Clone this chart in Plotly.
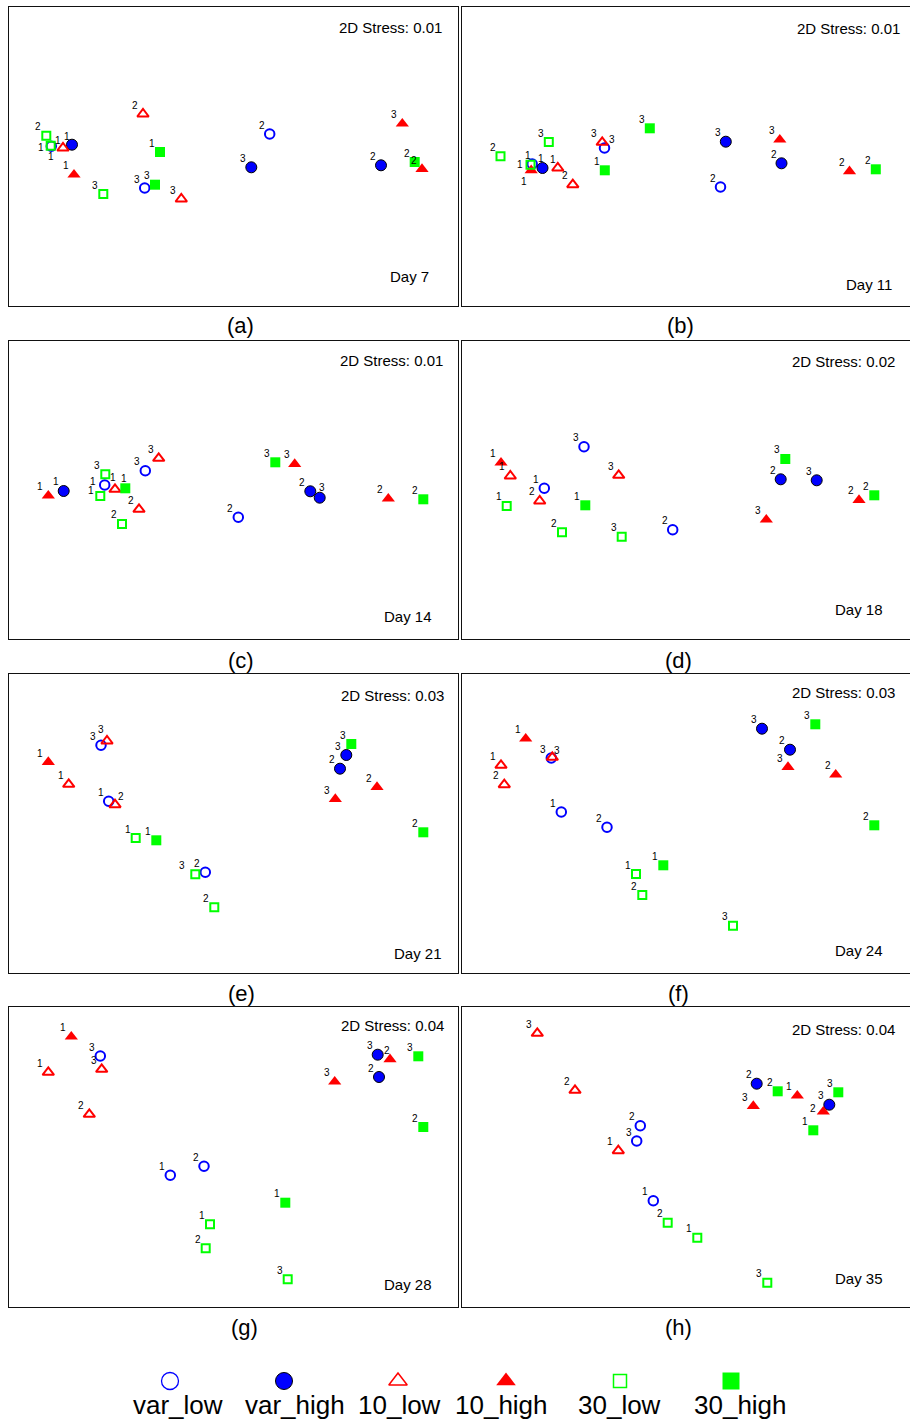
import plotly.graph_objects as go

# ---------------- data ----------------
groups = ["var_low", "var_high", "10_low", "10_high", "30_low", "30_high"]
reps = ["1", "2", "3"]
days = ["Day 7", "Day 11", "Day 14", "Day 18", "Day 21", "Day 24", "Day 28", "Day 35"]
letters = ["(a)", "(b)", "(c)", "(d)", "(e)", "(f)", "(g)", "(h)"]
stress = ["0.01", "0.01", "0.01", "0.02", "0.03", "0.03", "0.04", "0.04"]

# NMDS ordination coordinates (plot units) per day, replicate 1..3 (None = missing)
day7_x = {"var_low": [42.3, 260.7, 135.7], "var_high": [63.0, 372.0, 242.3],
          "10_low": [54.0, 134.0, 172.3], "10_high": [65.0, 413.0, 393.3],
          "30_low": [41.7, 37.3, 94.3], "30_high": [151.0, 405.7, 146.0]}
day7_y = {"var_low": [139.3, 127.0, 181.0], "var_high": [137.7, 158.3, 160.3],
          "10_low": [141.0, 107.0, 192.0], "10_high": [167.7, 162.0, 116.7],
          "30_low": [138.7, 128.7, 187.0], "30_high": [145.0, 155.0, 177.7]}

day11_x = {"var_low": [70.2, 258.5, 142.5], "var_high": [80.5, 319.5, 263.8],
           "10_low": [95.8, 110.8, 140.2], "10_high": [69.2, 387.5, 317.8],
           "30_low": [68.5, 38.5, 86.8], "30_high": [142.8, 413.8, 187.8]}
day11_y = {"var_low": [157.0, 180.0, 141.0], "var_high": [161.0, 156.3, 134.7],
           "10_low": [161.0, 177.7, 135.3], "10_high": [163.3, 164.3, 132.7],
           "30_low": [157.7, 149.3, 135.0], "30_high": [163.3, 162.3, 121.3]}

day14_x = {"var_low": [95.7, 229.3, 136.3], "var_high": [54.7, 301.3, 310.7],
           "10_low": [106.0, 130.0, 149.7], "10_high": [39.3, 379.3, 285.7],
           "30_low": [91.3, 113.0, 96.3], "30_high": [116.3, 414.3, 266.3]}
day14_y = {"var_low": [144.0, 176.3, 129.7], "var_high": [150.0, 150.3, 156.7],
           "10_low": [148.3, 168.3, 117.3], "10_high": [154.7, 157.7, 123.0],
           "30_low": [155.0, 183.0, 133.3], "30_high": [147.3, 158.3, 121.3]}

day18_x = {"var_low": [82.3, 210.7, 122.0], "var_high": [None, 318.7, 354.7],
           "10_low": [48.3, 77.7, 156.7], "10_high": [39.0, 397.0, 304.3],
           "30_low": [44.7, 100.0, 159.7], "30_high": [123.3, 412.3, 323.3]}
day18_y = {"var_low": [147.3, 188.7, 105.7], "var_high": [None, 138.3, 139.3],
           "10_low": [135.0, 160.0, 134.3], "10_high": [121.7, 159.0, 178.7],
           "30_low": [165.0, 191.3, 195.7], "30_high": [164.3, 154.3, 118.0]}

day21_x = {"var_low": [99.7, 196.3, 92.0], "var_high": [None, 331.0, 337.3],
           "10_low": [59.7, 106.0, 98.0], "10_high": [39.3, 368.0, 326.3],
           "30_low": [126.7, 205.3, 186.3], "30_high": [147.3, 414.3, 342.3]}
day21_y = {"var_low": [127.3, 198.3, 71.3], "var_high": [None, 94.7, 81.0],
           "10_low": [110.3, 130.7, 67.0], "10_high": [88.0, 113.0, 125.0],
           "30_low": [164.0, 233.3, 200.3], "30_high": [166.3, 158.3, 70.0]}

day24_x = {"var_low": [99.3, 145.0, 89.3], "var_high": [None, 328.0, 300.0],
           "10_low": [39.0, 42.3, 90.3], "10_high": [63.7, 373.7, 326.0],
           "30_low": [174.0, 180.3, 271.0], "30_high": [201.3, 412.3, 353.3]}
day24_y = {"var_low": [138.0, 153.3, 84.0], "var_high": [None, 75.7, 54.7],
           "10_low": [91.3, 110.7, 83.3], "10_high": [64.7, 100.7, 93.0],
           "30_low": [200.0, 221.0, 251.7], "30_high": [191.3, 151.3, 50.3]}

day28_x = {"var_low": [161.3, 195.0, 91.3], "var_high": [None, 370.0, 368.7],
           "10_low": [39.3, 80.3, 92.7], "10_high": [62.3, 381.0, 325.7],
           "30_low": [201.0, 196.7, 278.7], "30_high": [276.3, 414.3, 409.3]}
day28_y = {"var_low": [168.3, 159.3, 49.0], "var_high": [None, 70.0, 47.7],
           "10_low": [65.3, 107.3, 62.3], "10_high": [29.7, 52.3, 74.7],
           "30_low": [217.3, 241.3, 272.3], "30_high": [195.7, 120.0, 49.3]}

day35_x = {"var_low": [191.3, 178.3, 174.7], "var_high": [None, 294.7, 367.3],
           "10_low": [156.3, 113.0, 75.3], "10_high": [335.3, 361.3, 291.3],
           "30_low": [235.3, 205.7, 305.3], "30_high": [351.3, 315.7, 376.3]}
day35_y = {"var_low": [193.7, 118.7, 134.0], "var_high": [None, 76.7, 97.7],
           "10_low": [143.7, 83.3, 26.3], "10_high": [88.7, 104.7, 99.0],
           "30_low": [230.7, 215.7, 275.7], "30_high": [123.3, 84.3, 85.3]}

all_x = [day7_x, day11_x, day14_x, day18_x, day21_x, day24_x, day28_x, day35_x]
all_y = [day7_y, day11_y, day14_y, day18_y, day21_y, day24_y, day28_y, day35_y]

# ---------------- styles / layout ----------------
FIG_W, FIG_H = 910, 1424
FONT = "Liberation Sans, Arial, sans-serif"
BLUE, RED, GREEN = "#0000ff", "#ff0000", "#00ff00"

style = {
    "var_low":  dict(symbol="circle-open", color=BLUE, size=9.5, lw=2, lc=BLUE),
    "var_high": dict(symbol="circle", color=BLUE, size=11, lw=1, lc="black"),
    "10_low":   dict(symbol="triangle-up-open", color=RED, size=10, lw=2, lc=RED),
    "10_high":  dict(symbol="triangle-up", color=RED, size=11.5, lw=0, lc=RED),
    "30_low":   dict(symbol="square-open", color=GREEN, size=8, lw=2, lc=GREEN),
    "30_high":  dict(symbol="square", color=GREEN, size=10, lw=0, lc=GREEN),
}
legend_style = {
    "var_low":  dict(symbol="circle-open", size=17, lw=1.3),
    "var_high": dict(symbol="circle", size=17, lw=1),
    "10_low":   dict(symbol="triangle-up-open", size=16, lw=1.5),
    "10_high":  dict(symbol="triangle-up", size=17, lw=0),
    "30_low":   dict(symbol="square-open", size=13, lw=1.5),
    "30_high":  dict(symbol="square", size=17, lw=0),
}

# replicate-label placement: default offset (dx right, dy down, px) and per-label overrides
LABEL_DEFAULT = (-8, -9)
label_offsets = {
    (0, "var_low", 0): (-10, 1), (0, "30_low", 0): (0, 11),
    (0, "10_low", 0): (-5, -8), (0, "var_high", 0): (-5, -8),
    (1, "30_low", 0): (-11, 0), (1, "10_high", 0): (-7, 11),
    (1, "var_low", 0): (-4, -9), (1, "var_high", 0): (-2, -10),
    (1, "10_low", 0): (-5, -9), (1, "var_low", 2): (7, -9),
    (2, "var_low", 0): (-12, -3), (2, "30_low", 0): (-9, -5),
    (2, "10_low", 0): (-2, -12), (2, "30_high", 0): (-1, -10),
    (2, "var_high", 2): (2, -10),
    (4, "10_low", 2): (-6, -12), (4, "10_low", 1): (6, -8), (4, "30_low", 2): (-13, -9),
    (5, "10_low", 2): (5, -7),
    (6, "10_high", 1): (-3, -9),
    (7, "10_high", 1): (-10, -3),
}

cols = [(9, 458), (462, 910)]
rows = [(7, 306), (341, 639), (674, 973), (1007, 1307)]
# stress / day text positions (right edge x, center y) in panel units
stress_pos = [(435, 20), (440, 21), (436, 20), (435, 21), (437, 21), (435, 18), (437, 18), (435, 22)]
day_pos = [(422, 269), (432, 277), (425, 276), (423, 269), (435, 279), (423, 276), (425, 277), (423, 271)]
letter_pos = [(240, 326), (680, 326), (241, 660), (678, 660), (241, 993), (678, 993), (244, 1327), (678, 1327)]

legend_mx = [170, 284, 398, 506, 620, 731]
legend_tx = [178, 295, 399, 501, 619, 740]

fig = go.Figure()
annotations = []
layout_axes = {}

for i in range(8):
    r, c = divmod(i, 2)
    left, right = cols[c]
    top, bottom = rows[r]
    n = i + 1
    xa = "x" if n == 1 else f"x{n}"
    ya = "y" if n == 1 else f"y{n}"
    pw, ph = right - left, bottom - top
    layout_axes[f"xaxis{'' if n == 1 else n}"] = dict(
        domain=[left / FIG_W, right / FIG_W], range=[0, pw], showgrid=False, zeroline=False,
        showticklabels=False, ticks="", showline=True, linecolor="#111", linewidth=1,
        mirror=True, anchor=ya, fixedrange=True)
    layout_axes[f"yaxis{'' if n == 1 else n}"] = dict(
        domain=[1 - bottom / FIG_H, 1 - top / FIG_H], range=[ph, 0], showgrid=False,
        zeroline=False, showticklabels=False, ticks="", showline=True, linecolor="#111",
        linewidth=1, mirror=(c == 0), anchor=xa, fixedrange=True)

    dx, dy = all_x[i], all_y[i]
    for g in groups:
        st = style[g]
        idx = [k for k, v in enumerate(dx[g]) if v is not None]
        xs = [dx[g][k] for k in idx]
        ys = [dy[g][k] for k in idx]
        fig.add_trace(go.Scatter(
            x=xs, y=ys, mode="markers", xaxis=xa, yaxis=ya, showlegend=False,
            hoverinfo="skip",
            marker=dict(symbol=st["symbol"], color=st["color"], size=st["size"],
                        line=dict(width=st["lw"], color=st["lc"]))))
        for k, xv, yv in zip(idx, xs, ys):
            ox, oy = label_offsets.get((i, g, k), LABEL_DEFAULT)
            annotations.append(dict(x=xv, y=yv, xref=xa, yref=ya, text=reps[k], showarrow=False,
                                    xshift=ox, yshift=-oy,
                                    font=dict(family=FONT, size=10, color="black")))
    sx, sy = stress_pos[i]
    annotations.append(dict(x=sx, y=sy, xref=xa, yref=ya, text=f"2D Stress: {stress[i]}",
                            showarrow=False, xanchor="right", yanchor="middle",
                            font=dict(family=FONT, size=15, color="black")))
    tx, ty = day_pos[i]
    annotations.append(dict(x=tx, y=ty, xref=xa, yref=ya, text=days[i],
                            showarrow=False, xanchor="right", yanchor="middle",
                            font=dict(family=FONT, size=15, color="black")))
    lx, ly = letter_pos[i]
    annotations.append(dict(x=lx / FIG_W, y=1 - ly / FIG_H, xref="paper", yref="paper",
                            text=letters[i], showarrow=False, xanchor="center", yanchor="middle",
                            font=dict(family=FONT, size=22, color="black")))

# legend axis (pixel units)
layout_axes["xaxis9"] = dict(domain=[0, 1], range=[0, FIG_W], visible=False, anchor="y9", fixedrange=True)
layout_axes["yaxis9"] = dict(domain=[0, 1 - 1350 / FIG_H], range=[FIG_H, 1350], visible=False,
                             anchor="x9", fixedrange=True)
for k, g in enumerate(groups):
    st, ls = style[g], legend_style[g]
    fig.add_trace(go.Scatter(
        x=[legend_mx[k]], y=[1381], mode="markers", xaxis="x9", yaxis="y9", showlegend=False,
        hoverinfo="skip",
        marker=dict(symbol=ls["symbol"], color=st["color"], size=ls["size"],
                    line=dict(width=ls["lw"], color=st["lc"]))))
    annotations.append(dict(x=legend_tx[k], y=1405, xref="x9", yref="y9", text=g, showarrow=False,
                            xanchor="center", yanchor="middle",
                            font=dict(family=FONT, size=26, color="black")))

fig.update_layout(
    width=FIG_W, height=FIG_H, margin=dict(l=0, r=0, t=0, b=0),
    paper_bgcolor="white", plot_bgcolor="white", showlegend=False,
    annotations=annotations, **layout_axes)

fig.write_html("out.html", config={"displayModeBar": False})
